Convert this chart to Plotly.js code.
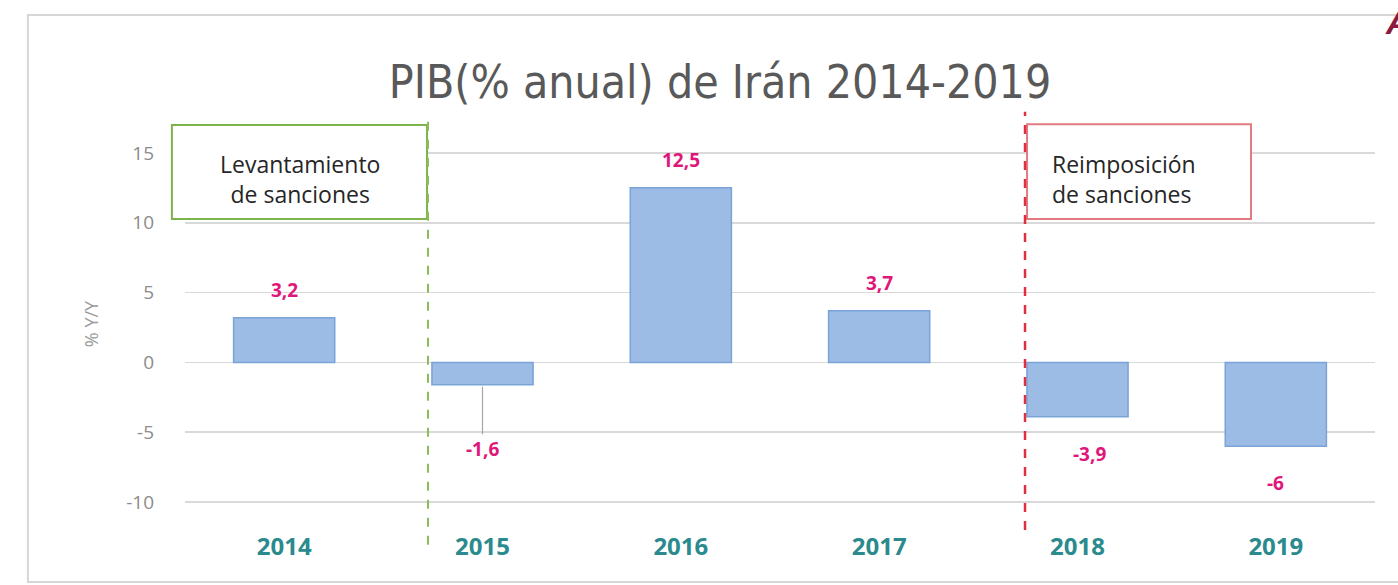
<!DOCTYPE html>
<html>
<head>
<meta charset="utf-8">
<script src="https://cdn.plot.ly/plotly-3.0.1.min.js"></script>
<style>html,body{margin:0;padding:0;background:#fff;}#chart{width:1398px;height:585px;}</style>
</head>
<body>
<div id="chart"></div>
<script>
// Data
var years = ["2014", "2015", "2016", "2017", "2018", "2019"];
var gdpGrowth = [3.2, -1.6, 12.5, 3.7, -3.9, -6];
var gdpLabels = ["3,2", "-1,6", "12,5", "3,7", "-3,9", "-6"];
var yTicks = [-10, -5, 0, 5, 10, 15];
var yTickText = ["-10", "-5", "0", "5", "10", "15"];
var titleText = "PIB(% anual) de Irán 2014-2019";
var yTitle = "% Y/Y";
var liftText = "Levantamiento<br>de sanciones";
var reimpText = "Reimposición<br>de sanciones";

var magenta = "#e0177a";

var trace = {
  type: "bar",
  x: years,
  y: gdpGrowth,
  marker: {color: "#9cbbe5", line: {color: "#7aa3d8", width: 1.5}},
  hoverinfo: "skip"
};

var annotations = [];
gdpGrowth.forEach(function (v, i) {
  var base = {
    x: i, y: v, xref: "x", yref: "y",
    text: "<b>" + gdpLabels[i] + "</b>",
    font: {family: "Open Sans, sans-serif", size: 19, color: magenta}
  };
  if (Math.abs(v) < 2) {
    base.showarrow = true; base.arrowhead = 0; base.arrowwidth = 1.2;
    base.arrowcolor = "#a6a6a6"; base.ax = 0; base.ay = 64;
    base.standoff = 2; base.startstandoff = 0;
  } else {
    base.showarrow = false;
    base.yshift = v > 0 ? 28 : -37;
    base.xshift = (v < 0 && v > -5) ? 12 : 0;
  }
  annotations.push(base);
});

annotations.push({
  x: 0.097, y: 0.853, xref: "paper", yref: "paper",
  text: liftText, showarrow: false, align: "center",
  xanchor: "center", yanchor: "middle",
  font: {family: "Open Sans, sans-serif", size: 23, color: "#262626"}
});
annotations.push({
  x: 0.727, y: 0.853, xref: "paper", yref: "paper",
  text: reimpText, showarrow: false, align: "left",
  xanchor: "left", yanchor: "middle",
  font: {family: "Open Sans, sans-serif", size: 23, color: "#262626"}
});
annotations.push({
  x: (1383 - 185) / 1190, y: (530 - 22) / 412, xref: "paper", yref: "paper",
  xanchor: "left", yanchor: "middle",
  text: "<b><i>A</i></b>", showarrow: false,
  font: {family: "Liberation Sans, sans-serif", size: 34, color: "#8c1a3d"}
});

var shapes = [
  // outer frame
  {type: "rect", xref: "paper", yref: "paper", x0: -0.132, x1: 1.03, y0: -0.126, y1: 1.25,
   line: {color: "#d6d6d6", width: 2}, fillcolor: "rgba(0,0,0,0)", layer: "below"},
  // green box
  {type: "rect", xref: "paper", yref: "paper", x0: -0.011, x1: 0.2034, y0: 0.755, y1: 0.983,
   line: {color: "#7db34a", width: 2}, fillcolor: "#ffffff"},
  // red box
  {type: "rect", xref: "paper", yref: "paper", x0: 0.7076, x1: 0.8958, y0: 0.755, y1: 0.985,
   line: {color: "#e27a80", width: 2}, fillcolor: "#ffffff"},
  // green dashed divider
  {type: "line", xref: "paper", yref: "paper", x0: 0.2042, x1: 0.2042, y0: -0.036, y1: 1.007,
   line: {color: "#8dbd5a", width: 2, dash: "dash"}},
  // red dashed divider
  {type: "line", xref: "paper", yref: "paper", x0: 0.7059, x1: 0.7059, y0: 0.0, y1: 1.015,
   line: {color: "#e0303f", width: 2.5, dash: "dash"}}
];

var layout = {
  width: 1398, height: 585,
  margin: {l: 185, r: 23, t: 118, b: 55},
  paper_bgcolor: "#ffffff", plot_bgcolor: "#ffffff",
  showlegend: false,
  bargap: 0.49,
  title: {
    text: titleText,
    x: 720 / 1398, xanchor: "center", xref: "container",
    y: 1 - 82 / 585, yanchor: "middle", yref: "container",
    font: {family: "DejaVu Sans Condensed, Liberation Sans Narrow, Liberation Sans, sans-serif", size: 46, color: "#595959"}
  },
  xaxis: {
    type: "category",
    range: [-0.5, 5.5],
    showgrid: false, zeroline: false, showline: false,
    ticks: "",
    tickfont: {family: "Open Sans, sans-serif", size: 24, color: "#2a8a8e", weight: "bold"},
    fixedrange: true
  },
  yaxis: {
    range: [-12, 17.5],
    tickvals: yTicks, ticktext: yTickText,
    showgrid: true, gridcolor: "#d9d9d9", gridwidth: 1.5,
    zeroline: true, zerolinecolor: "#d9d9d9", zerolinewidth: 1.5,
    showline: false, ticks: "",
    ticklabelstandoff: 30,
    tickfont: {family: "Open Sans, sans-serif", size: 19, color: "#8c8c8c"},
    title: {text: yTitle, standoff: 22, font: {family: "Open Sans, sans-serif", size: 18, color: "#9a9a9a"}},
    fixedrange: true
  },
  annotations: annotations,
  shapes: shapes
};

Plotly.newPlot("chart", [trace], layout, {displayModeBar: false, staticPlot: true});
</script>
</body>
</html>
